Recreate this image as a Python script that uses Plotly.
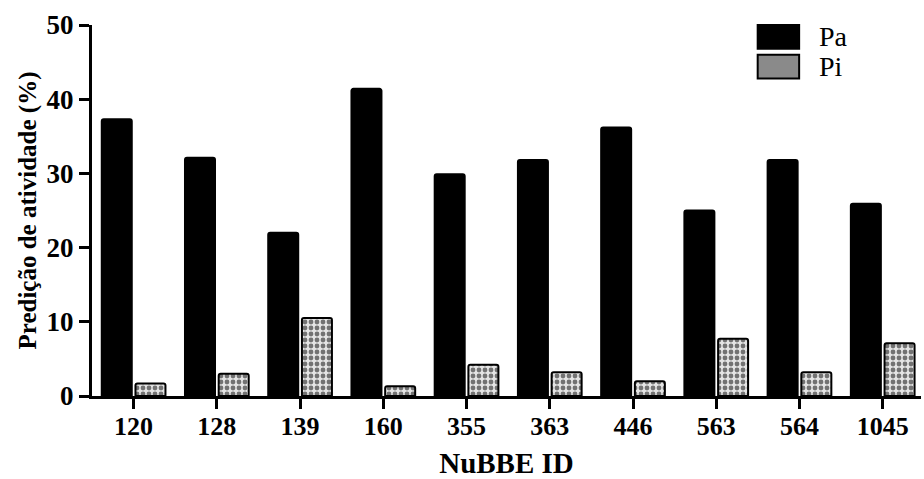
import plotly.graph_objects as go

categories = ["120", "128", "139", "160", "355", "363", "446", "563", "564", "1045"]
pa_values = [37.3, 32.1, 22.0, 41.4, 29.9, 31.8, 36.2, 25.0, 31.8, 25.9]
pi_values = [1.7, 3.0, 10.5, 1.3, 4.2, 3.2, 2.0, 7.7, 3.2, 7.1]
y_ticks = [0, 10, 20, 30, 40, 50]
legend_labels = ["Pa", "Pi"]

SERIF = "Liberation Serif, Times New Roman, serif"
PI_FILL = "#e4e4e4"

fig = go.Figure()
fig.add_trace(go.Bar(
    x=categories, y=pa_values, name=legend_labels[0], showlegend=False,
    marker=dict(color="black", line=dict(color="black", width=2), cornerradius=2),
))
fig.add_trace(go.Bar(
    x=categories, y=pi_values, name=legend_labels[1], showlegend=False,
    marker=dict(color=PI_FILL, line=dict(color="black", width=2), cornerradius=2,
                pattern=dict(shape=".", fgcolor="black", bgcolor=PI_FILL,
                             size=6, solidity=0.5, fillmode="overlay")),
))

# Legend drawn as boxes + labels in paper coordinates (large swatches like the original)
legend_shapes = []
legend_annots = []
box_fill = ["black", "#8a8a8a"]
for i, lab in enumerate(legend_labels):
    y_top = 1.0 - i * 0.08
    legend_shapes.append(dict(
        type="rect", xref="paper", yref="paper",
        x0=0.803, x1=0.853, y0=y_top - 0.064, y1=y_top,
        fillcolor=box_fill[i], line=dict(color="black", width=2),
    ))
    legend_annots.append(dict(
        text=lab, xref="paper", yref="paper", x=0.875, y=y_top - 0.032,
        xanchor="left", yanchor="middle", showarrow=False,
        font=dict(family=SERIF, size=28, color="black"),
    ))

fig.update_layout(
    width=924, height=479,
    margin=dict(l=92, r=3, t=25, b=81),
    paper_bgcolor="white", plot_bgcolor="white",
    barmode="group", bargap=0.19, bargroupgap=0.11,
    font=dict(family=SERIF, color="black"),
    showlegend=False,
    shapes=legend_shapes,
    annotations=legend_annots,
    xaxis=dict(
        type="category", range=[-0.5, 9.46],
        showline=True, linecolor="black", linewidth=3,
        ticks="outside", ticklen=10, tickwidth=3, tickcolor="black",
        ticklabelstandoff=-5,
        tickfont=dict(family=SERIF, size=26, weight="bold"),
        title=dict(text="NuBBE ID", font=dict(family=SERIF, size=29, weight="bold"), standoff=14),
        showgrid=False, zeroline=False,
    ),
    yaxis=dict(
        range=[0, 50], tickvals=y_ticks,
        showline=True, linecolor="black", linewidth=3,
        ticks="outside", ticklen=10, tickwidth=3, tickcolor="black",
        tickfont=dict(family=SERIF, size=27, weight="bold"),
        title=dict(text="Predição de atividade (%)", font=dict(family=SERIF, size=25, weight="bold"), standoff=3),
        showgrid=False, zeroline=False,
    ),
)

fig.write_html("out.html", config={"displayModeBar": False},
               post_script="document.body.style.margin='0';")
